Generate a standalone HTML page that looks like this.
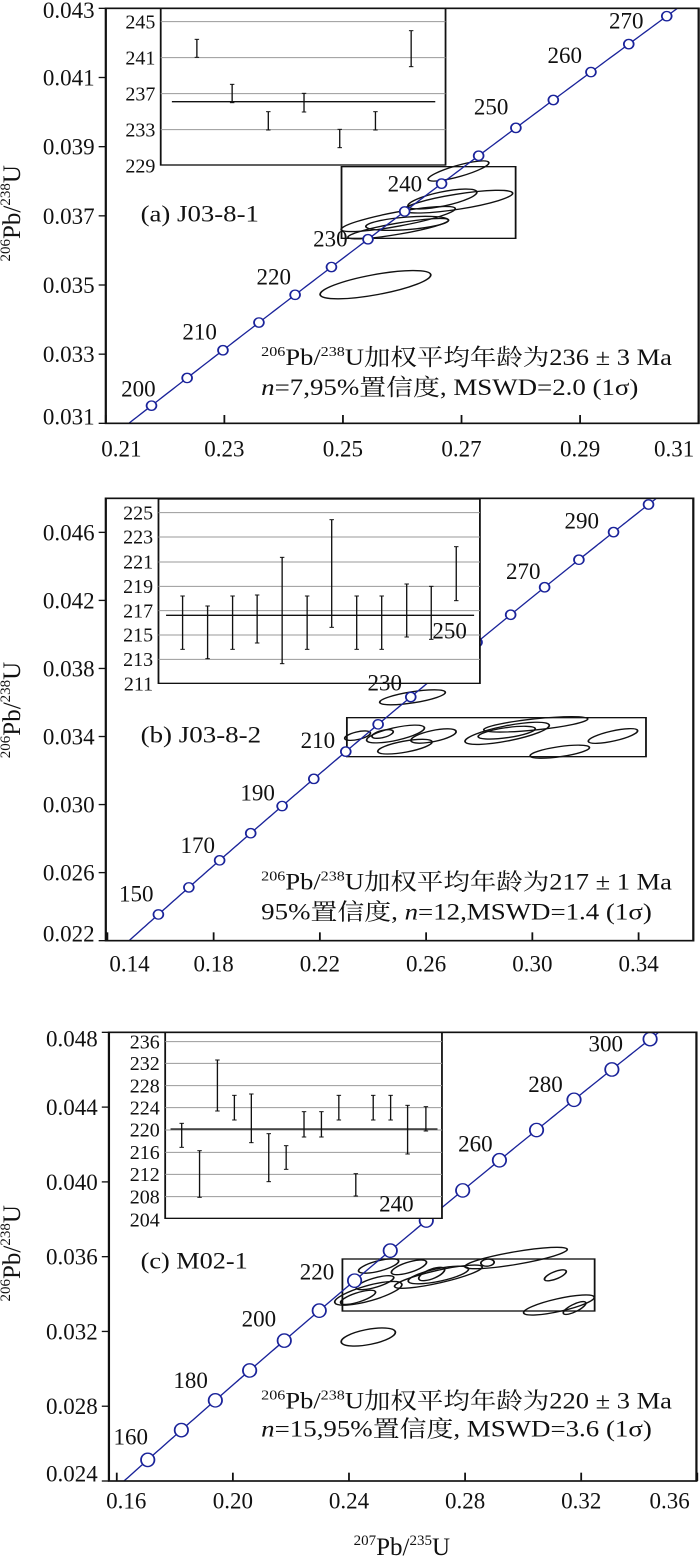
<!DOCTYPE html>
<html><head><meta charset="utf-8">
<style>
html,body{margin:0;padding:0;background:#fff;}
body{width:700px;height:1559px;position:relative;overflow:hidden;}
svg{position:absolute;left:0;display:block;}
text{font-family:"Liberation Serif","Noto Serif CJK SC",serif;fill:#111;}
</style></head>
<body>
<svg id="a" style="top:0" width="700" height="470" viewBox="0 0 1568 1410" preserveAspectRatio="none"></svg>
<svg id="at" style="top:0" width="700" height="470"></svg>
<svg id="b" style="top:480px" width="700" height="540" viewBox="0 0 1568 1620" preserveAspectRatio="none"></svg>
<svg id="bt" style="top:480px" width="700" height="540"></svg>
<svg id="c" style="top:1020px" width="700" height="539" viewBox="0 0 1568 1617" preserveAspectRatio="none"></svg>
<svg id="ct" style="top:1020px" width="700" height="539"></svg>
<script>
const L238=1.55125e-10,L235=9.8485e-10;
const SX=700/1568,SY=1/3;
function r206(t){return Math.exp(L238*t*1e6)-1}
function r207(t){return Math.exp(L235*t*1e6)-1}
function build(id,P){
 let s='',o='';
 const X=v=>P.fx0+(v-P.x0)/(P.x1-P.x0)*(P.fx1-P.fx0);
 const Y=v=>P.fy1-(v-P.y0)/(P.y1-P.y0)*(P.fy1-P.fy0);
 const T=(x,y,c,fs,anch,extra)=>{o+=`<text x="${(x*SX).toFixed(1)}" y="${(y*SY).toFixed(1)}" font-size="${fs}" text-anchor="${anch||'start'}" ${extra||''}>${c}</text>`;};
 s+=`<defs><clipPath id="cl${id}"><rect x="${P.fx0}" y="${P.fy0}" width="${P.fx1-P.fx0}" height="${P.fy1-P.fy0}"/></clipPath></defs>`;
 P.ell.forEach(e=>{s+=`<ellipse cx="${e[0]}" cy="${e[1]}" rx="${e[2]/2}" ry="${e[4]*0.75}" transform="rotate(${e[3]} ${e[0]} ${e[1]})" fill="none" stroke="#111" stroke-width="4"/>`;});
 const b=P.box; s+=`<rect x="${b[0]}" y="${b[1]}" width="${b[2]-b[0]}" height="${b[3]-b[1]}" fill="none" stroke="#111" stroke-width="4"/>`;
 let pts=[];for(let t=P.t0;t<=P.t1;t+=0.5){pts.push(X(r207(t)).toFixed(1)+','+Y(r206(t)).toFixed(1));}
 s+=`<polyline clip-path="url(#cl${id})" points="${pts.join(' ')}" fill="none" stroke="#1a239a" stroke-width="3.5"/>`;
 for(let t=P.c0;t<=P.c1;t+=P.cs){const x=X(r207(t)),y=Y(r206(t));
  if(x>P.fx0&&x<P.fx1&&y>P.fy0&&y<P.fy1) s+=`<ellipse cx="${x}" cy="${y}" rx="${P.crx}" ry="${P.cry}" fill="#fff" stroke="#1a239a" stroke-width="4"/>`;}
 P.ages.forEach(a=>{T(a[1],a[2]+24,a[0],23,'middle');});
 const I=P.ins;
 s+=`<rect x="${I.x0}" y="${I.y0}" width="${I.x1-I.x0}" height="${I.y1-I.y0}" fill="#fff" stroke="#111" stroke-width="4"/>`;
 I.grid.forEach(g=>{s+=`<line x1="${I.x0}" x2="${I.x1}" y1="${g}" y2="${g}" stroke="#999" stroke-width="3"/>`;});
 I.labs.forEach(l=>{T(I.x0-12,l[1]+20,l[0],20,'end');});
 s+=`<line x1="${I.m[0]}" x2="${I.m[1]}" y1="${I.m[2]}" y2="${I.m[2]}" stroke="#111" stroke-width="4"/>`;
 I.bars.forEach(e=>{s+=`<line x1="${e[0]}" x2="${e[0]}" y1="${e[1]}" y2="${e[2]}" stroke="#111" stroke-width="3"/><line x1="${e[0]-5}" x2="${e[0]+5}" y1="${e[1]}" y2="${e[1]}" stroke="#111" stroke-width="3"/><line x1="${e[0]-5}" x2="${e[0]+5}" y1="${e[2]}" y2="${e[2]}" stroke="#111" stroke-width="3"/>`;});
 s+=`<rect x="${P.fx0}" y="${P.fy0}" width="${P.fx1-P.fx0}" height="${P.fy1-P.fy0}" fill="none" stroke="#111" stroke-width="5"/>`;
 P.yt.forEach(t=>{const y=Y(t[0]);s+=`<line x1="${P.fx0-16}" x2="${P.fx0}" y1="${y}" y2="${y}" stroke="#111" stroke-width="4"/>`;T(P.fx0-25,(t[2]||y)+24,t[1],23,'end');});
 P.xt.forEach(t=>{const x=X(t[0]);s+=`<line x1="${x}" x2="${x}" y1="${P.fy1-25}" y2="${P.fy1}" stroke="#111" stroke-width="4"/>`;T(t[2]||x,P.xly,t[1],23,'middle');});
 o+=`<text transform="translate(${(P.ytx*SX).toFixed(1)} ${(P.yty*SY).toFixed(1)}) rotate(-90)" font-size="25" text-anchor="middle"><tspan font-size="15" dy="-10">206</tspan><tspan dy="10">Pb/</tspan><tspan font-size="15" dy="-10">238</tspan><tspan dy="10">U</tspan></text>`;
 T(315,P.lab[1],P.lab[0],23,'start',`textLength="${(P.lab[2]*SX).toFixed(1)}" lengthAdjust="spacingAndGlyphs"`);
 T(585,P.t1y,`<tspan font-size="14" dy="-9">206</tspan><tspan dy="9">Pb/</tspan><tspan font-size="14" dy="-9">238</tspan><tspan dy="9">U加权平均年龄为${P.age}</tspan>`,23,'start',`textLength="${(920*SX).toFixed(1)}" lengthAdjust="spacingAndGlyphs"`);
 T(585,P.t2y,P.line2,23,'start',`textLength="${(P.t2l*SX).toFixed(1)}" lengthAdjust="spacingAndGlyphs"`);
 if(P.xtitle) T(900,1605,`<tspan font-size="15" dy="-10">207</tspan><tspan dy="10">Pb/</tspan><tspan font-size="15" dy="-10">235</tspan><tspan dy="10">U</tspan>`,25,'middle');
 document.getElementById(id).innerHTML=s;
 document.getElementById(id+'t').innerHTML=o;
}
build('a',{fx0:237,fx1:1565,fy0:25,fy1:1270,x0:0.21,x1:0.31,y0:0.031,y1:0.043,t0:190,t1:280,c0:195,c1:275,cs:5,crx:11,cry:14,
 ages:[[200,310,1165],[210,447,995],[220,613,830],[230,740,715],[240,907,550],[250,1100,320],[260,1265,165],[270,1403,62]],
 ins:{x0:360,y0:25,x1:998,y1:495,grid:[65,173,281,389],labs:[[245,65],[241,173],[237,281],[233,389],[229,497]],m:[385,975,305],
  bars:[[441,118,172],[520,253,308],[601,335,390],[681,280,336],[761,388,443],[841,335,390],[921,92,200]]},
 box:[765,500,1155,715],
 ell:[[1027,513,145,-21,22],[991,597,160,-16,28],[1026,605,250,-12,30],[892,657,263,-14,28],[912,670,186,-6,25],[892,686,231,-13,22],[841,854,255,-14,40]],
 yt:[[0.043,'0.043',30],[0.041,'0.041'],[0.039,'0.039'],[0.037,'0.037'],[0.035,'0.035'],[0.033,'0.033'],[0.031,'0.031',1250]],
 xt:[[0.21,'0.21',272],[0.23,'0.23'],[0.25,'0.25'],[0.27,'0.27'],[0.29,'0.29'],[0.31,'0.31',1510]],xly:1370,ytx:45,yty:640,
 lab:['(a) J03-8-1',665,265],t1y:1095,t2y:1185,age:'236 ± 3 Ma',line2:'<tspan font-style="italic">n</tspan>=7,95%置信度, MSWD=2.0 (1σ)',t2l:845});
build('b',{fx0:237,fx1:1553,fy0:55,fy1:1382,x0:0.1394,x1:0.3606,y0:0.022,y1:0.048,t0:140,t1:310,c0:150,c1:300,cs:10,crx:11,cry:14,
 ages:[[150,305,1240],[170,443,1095],[190,577,938],[210,712,780],[230,862,607],[250,1007,452],[270,1172,273],[290,1303,122]],
 ins:{x0:355,y0:57,x1:1075,y1:610,grid:[98,171,246,319,392,465,538],labs:[[225,98],[223,171],[221,246],[219,319],[217,392],[215,465],[213,538],[211,612]],m:[372,1062,406],
  bars:[[409,348,508],[465,378,536],[521,348,508],[576,345,489],[632,232,551],[688,348,508],[743,119,442],[799,348,508],[855,348,508],[911,312,471],[966,319,478],[1022,200,362]]},
 box:[777,713,1447,830],
 ell:[[924,652,150,-12,22],[801,767,60,-18,15],[886,762,135,-17,25],[857,762,50,-20,14],[971,768,105,-16,22],[907,800,125,-14,22],[1200,733,235,-8,22],[1136,760,195,-15,30],[1135,758,130,-11,20],[1373,768,115,-17,20],[1254,815,135,-11,20]],
 yt:[[0.046,'0.046'],[0.042,'0.042'],[0.038,'0.038'],[0.034,'0.034'],[0.030,'0.030'],[0.026,'0.026'],[0.022,'0.022',1360]],
 xt:[[0.14,'0.14',290],[0.18,'0.18'],[0.22,'0.22'],[0.26,'0.26'],[0.30,'0.30'],[0.34,'0.34']],xly:1475,ytx:45,yty:690,
 lab:['(b) J03-8-2',787,270],t1y:1228,t2y:1318,age:'217 ± 1 Ma',line2:'95%置信度, <tspan font-style="italic">n</tspan>=12,MSWD=1.4 (1σ)',t2l:875});
build('c',{fx0:244,fx1:1560,fy0:37,fy1:1383,x0:0.1573,x1:0.3597,y0:0.024,y1:0.048,t0:150,t1:310,c0:160,c1:300,cs:10,crx:15,cry:20,
 ages:[[160,293,1250],[180,427,1080],[200,580,895],[220,710,755],[240,888,550],[260,1065,370],[280,1222,192],[300,1357,70]],
 ins:{x0:370,y0:37,x1:990,y1:595,grid:[65,130,197,263,330,397,463,530],labs:[[236,65],[232,130],[228,197],[224,263],[220,330],[216,397],[212,463],[208,530],[204,600]],m:[382,980,327],
  bars:[[407,310,382],[447,392,532],[487,120,273],[525,226,300],[563,222,368],[602,341,485],[641,377,448],[681,275,351],[720,275,351],[759,226,300],[797,461,528],[836,226,300],[875,226,300],[913,256,402],[954,260,333]]},
 box:[767,717,1332,873],
 ell:[[1156,714,235,-13,25],[848,738,95,-20,20],[916,742,85,-24,20],[840,788,90,-22,18],[982,770,205,-17,25],[982,765,140,-16,25],[967,762,65,-30,18],[825,820,160,-21,30],[802,832,85,-24,18],[1244,766,55,-30,14],[1252,855,165,-17,25],[1287,864,60,-35,14],[1092,728,30,-10,14],[825,951,125,-15,30]],
 yt:[[0.048,'0.048',55],[0.044,'0.044'],[0.040,'0.040'],[0.036,'0.036'],[0.032,'0.032'],[0.028,'0.028'],[0.024,'0.024',1360]],
 xt:[[0.16,'0.16',283],[0.20,'0.20'],[0.24,'0.24'],[0.28,'0.28'],[0.32,'0.32'],[0.36,'0.36',1500]],xly:1465,ytx:45,yty:700,xtitle:true,
 lab:['(c) M02-1',745,240],t1y:1165,t2y:1250,age:'220 ± 3 Ma',line2:'<tspan font-style="italic">n</tspan>=15,95%置信度, MSWD=3.6 (1σ)',t2l:875});
</script>
</body></html>
